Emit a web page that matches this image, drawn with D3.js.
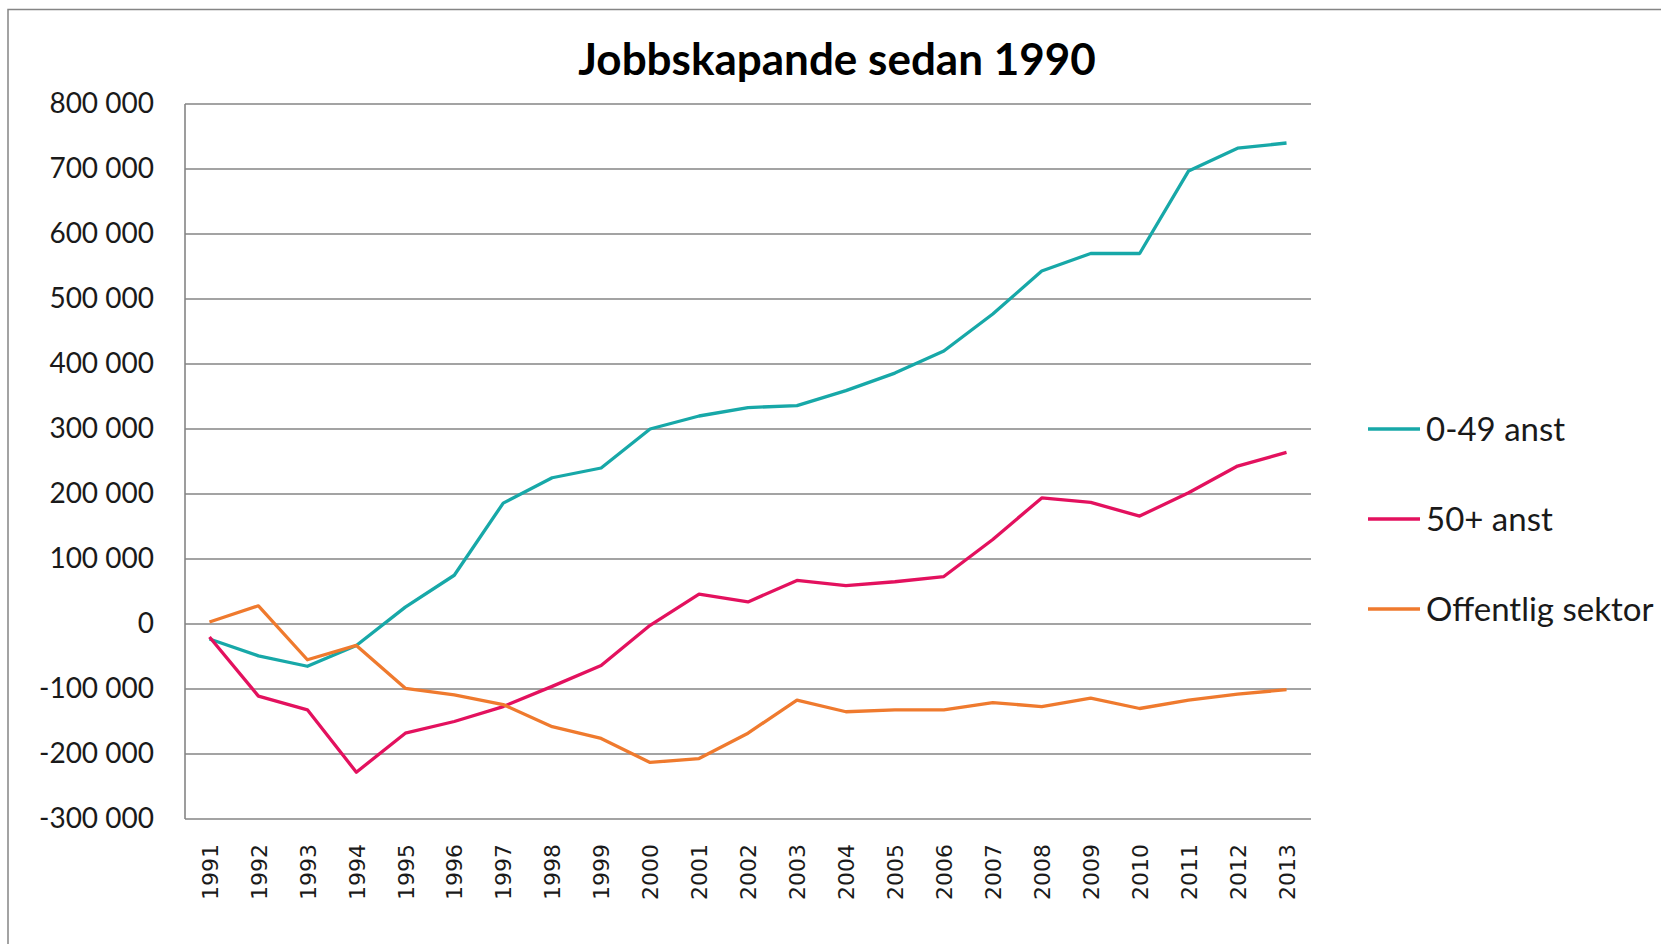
<!DOCTYPE html>
<html>
<head>
<meta charset="utf-8">
<script src="https://cdn.jsdelivr.net/npm/d3@7"></script>
<style>
  body { margin: 0; background: #fff; }
  svg { display: block; }
</style>
</head>
<body>
<svg id="chart"></svg>
<script>
// chart data
var years = ["1991","1992","1993","1994","1995","1996","1997","1998","1999","2000","2001","2002",
             "2003","2004","2005","2006","2007","2008","2009","2010","2011","2012","2013"];

var small = [-23000,-49000,-65000,-33000,26000,75000,186000,225000,240000,300000,320000,333000,
             336000,359000,386000,420000,477000,543000,570000,570000,697000,732000,740000];

var large = [-20000,-111000,-132000,-228000,-168000,-150000,-127000,-96000,-64000,-2000,46000,34000,
             67000,59000,65000,73000,130000,194000,187000,166000,202000,243000,264000];

var offentlig = [3000,28000,-55000,-33000,-99000,-109000,-124000,-158000,-176000,-213000,-207000,-168000,
                 -117000,-135000,-132000,-132000,-121000,-127000,-114000,-130000,-117000,-108000,-101000];

var seriesNames = ["0-49 anst", "50+ anst", "Offentlig sektor"];
var seriesColors = ["#17a8a8", "#e3115e", "#ef7a2e"];
var yTicks = [-300000,-200000,-100000,0,100000,200000,300000,400000,500000,600000,700000,800000];

var width = 1661, height = 944;
var plotLeft = 185, plotRight = 1311, plotTop = 104, plotBottom = 819;
var gridColor = "#858585";
var txtFont = "Lato, 'Open Sans', sans-serif";

var svg = d3.select("#chart")
    .attr("width", width)
    .attr("height", height);

// outer chart frame (cut off at right / bottom like the screenshot)
svg.append("rect")
    .attr("x", 8).attr("y", 9.5)
    .attr("width", 1700).attr("height", 1000)
    .attr("fill", "none")
    .attr("stroke", gridColor)
    .attr("stroke-width", 1.5);

var x = d3.scalePoint()
    .domain(years)
    .range([plotLeft, plotRight])
    .padding(0.5);

var y = d3.scaleLinear()
    .domain([-300000, 800000])
    .range([plotBottom, plotTop]);

var locale = d3.formatLocale({decimal: ",", thousands: " ", grouping: [3], currency: ["", ""], minus: "-"});
var fmt = locale.format(",");

// gridlines
svg.append("g")
    .selectAll("line")
    .data(yTicks)
    .enter()
    .append("line")
    .attr("x1", plotLeft).attr("x2", plotRight)
    .attr("y1", function(d){ return y(d); })
    .attr("y2", function(d){ return y(d); })
    .attr("stroke", gridColor)
    .attr("stroke-width", 1.6);

// left axis line
svg.append("line")
    .attr("x1", plotLeft).attr("x2", plotLeft)
    .attr("y1", plotTop).attr("y2", plotBottom)
    .attr("stroke", gridColor)
    .attr("stroke-width", 1.6);

// y axis labels
var yAxis = d3.axisLeft(y)
    .tickValues(yTicks)
    .tickFormat(fmt)
    .tickSize(0)
    .tickPadding(31);

var gy = svg.append("g")
    .attr("transform", "translate(" + plotLeft + ",0)")
    .call(yAxis);
gy.select(".domain").remove();
gy.selectAll("text")
    .attr("font-family", txtFont)
    .attr("font-size", 28)
    .attr("fill", "#1a1a1a");

// x axis labels (rotated)
var xAxis = d3.axisBottom(x)
    .tickSize(0)
    .tickPadding(0);

var gx = svg.append("g")
    .attr("transform", "translate(0," + plotBottom + ")")
    .call(xAxis);
gx.select(".domain").remove();
gx.selectAll("text")
    .attr("font-family", "'DejaVu Sans', sans-serif")
    .attr("font-size", 22)
    .attr("fill", "#1a1a1a")
    .attr("text-anchor", "end")
    .attr("transform", "rotate(-90)")
    .attr("x", -25)
    .attr("y", 0)
    .attr("dy", "0.35em");

// lines
var line = d3.line()
    .x(function(d, i){ return x(years[i]); })
    .y(function(d){ return y(d); });

var allSeries = [small, large, offentlig];
svg.append("g")
    .selectAll("path")
    .data(allSeries)
    .enter()
    .append("path")
    .attr("d", line)
    .attr("fill", "none")
    .attr("stroke", function(d, i){ return seriesColors[i]; })
    .attr("stroke-width", 3.3)
    .attr("stroke-linejoin", "round");

// title
svg.append("text")
    .attr("x", 837)
    .attr("y", 75)
    .attr("text-anchor", "middle")
    .attr("font-family", txtFont)
    .attr("font-weight", "bold")
    .attr("font-size", 44)
    .attr("fill", "#000")
    .text("Jobbskapande sedan 1990");

// legend
var legend = svg.append("g")
    .selectAll("g")
    .data(seriesNames)
    .enter()
    .append("g")
    .attr("transform", function(d, i){ return "translate(1368," + (429 + i * 90) + ")"; });

legend.append("line")
    .attr("x1", 0).attr("x2", 52)
    .attr("y1", 0).attr("y2", 0)
    .attr("stroke", function(d, i){ return seriesColors[i]; })
    .attr("stroke-width", 3.3);

legend.append("text")
    .attr("x", 58)
    .attr("dy", "0.35em")
    .attr("font-family", txtFont)
    .attr("font-size", 33)
    .attr("fill", "#1a1a1a")
    .text(function(d){ return d; });
</script>
</body>
</html>
